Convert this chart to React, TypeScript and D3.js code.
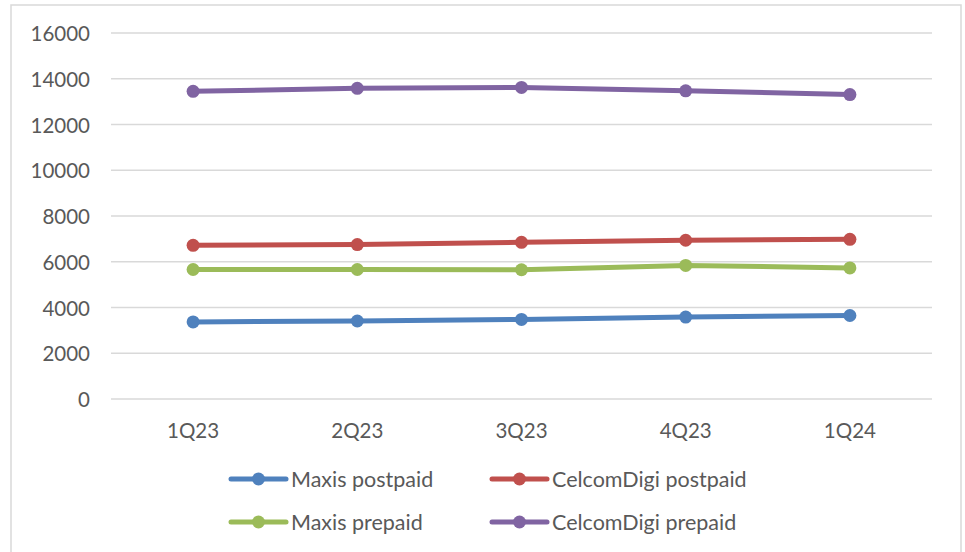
import React from "react";
import * as d3 from "d3";

const quarters = ["1Q23", "2Q23", "3Q23", "4Q23", "1Q24"];
const maxisPostpaid = [3370, 3410, 3480, 3580, 3650];
const celcomDigiPostpaid = [6720, 6750, 6850, 6940, 6980];
const maxisPrepaid = [5660, 5660, 5650, 5840, 5730];
const celcomDigiPrepaid = [13450, 13580, 13620, 13470, 13310];
const yTicks = [0, 2000, 4000, 6000, 8000, 10000, 12000, 14000, 16000];

const seriesNames = ["Maxis postpaid", "CelcomDigi postpaid", "Maxis prepaid", "CelcomDigi prepaid"];
const seriesColors = ["#4F81BD", "#C0504D", "#9BBB59", "#8064A2"];

const W = 965;
const H = 552;
const plotLeft = 111;
const plotRight = 932;
const plotTop = 33;
const plotBottom = 399;
const font = "Lato, 'Open Sans', sans-serif";
const textColor = "#595959";

export default function App() {
  const x = d3.scaleBand<string>().domain(quarters).range([plotLeft, plotRight]);
  const y = d3.scaleLinear().domain([0, 16000]).range([plotBottom, plotTop]);
  const cx = (q: string) => (x(q) ?? 0) + x.bandwidth() / 2;

  const series = [maxisPostpaid, celcomDigiPostpaid, maxisPrepaid, celcomDigiPrepaid];
  const line = d3
    .line<number>()
    .x((_, i) => cx(quarters[i]))
    .y((d) => y(d));

  // legend layout: two columns, two rows
  const legendCols = [231, 492];
  const legendRows = [479, 522];

  return (
    <svg
      width={W}
      height={H}
      style={{ position: "absolute", left: 0, top: 0, background: "#fff" }}
    >
      <rect x={11} y={5} width={950} height={570} fill="#fff" stroke="#D9D9D9" strokeWidth={1.5} />

      {yTicks.map((t) => (
        <g key={t}>
          <line x1={plotLeft} x2={plotRight} y1={y(t)} y2={y(t)} stroke="#D9D9D9" strokeWidth={1.5} />
          <text
            x={90}
            y={y(t)}
            textAnchor="end"
            dominantBaseline="central"
            fontFamily={font}
            fontSize={20.5}
            fill={textColor}
          >
            {t}
          </text>
        </g>
      ))}

      {quarters.map((q) => (
        <text
          key={q}
          x={cx(q)}
          y={430}
          textAnchor="middle"
          dominantBaseline="central"
          fontFamily={font}
          fontSize={20.5}
          fill={textColor}
        >
          {q}
        </text>
      ))}

      {series.map((vals, si) => (
        <g key={seriesNames[si]}>
          <path d={line(vals) ?? ""} fill="none" stroke={seriesColors[si]} strokeWidth={5} strokeLinejoin="round" strokeLinecap="round" />
          {vals.map((v, i) => (
            <circle key={i} cx={cx(quarters[i])} cy={y(v)} r={6.5} fill={seriesColors[si]} />
          ))}
        </g>
      ))}

      {seriesNames.map((name, si) => {
        const lx = legendCols[si % 2];
        const ly = legendRows[Math.floor(si / 2)];
        return (
          <g key={name}>
            <line x1={lx} x2={lx + 55} y1={ly} y2={ly} stroke={seriesColors[si]} strokeWidth={5} strokeLinecap="round" />
            <circle cx={lx + 27.5} cy={ly} r={6.5} fill={seriesColors[si]} />
            <text
              x={lx + 60}
              y={ly}
              dominantBaseline="central"
              fontFamily={font}
              fontSize={21.5}
              fill={textColor}
            >
              {name}
            </text>
          </g>
        );
      })}
    </svg>
  );
}
